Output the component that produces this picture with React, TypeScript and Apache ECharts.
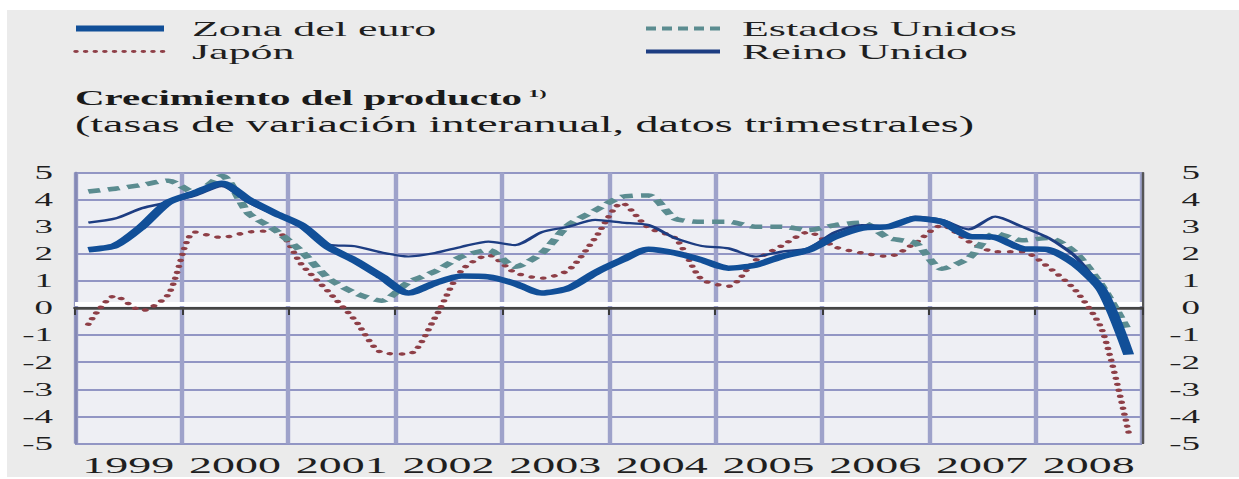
import React, { useEffect, useRef } from "react";
import * as echarts from "echarts";

// ---- data ----
const years = ["1999", "2000", "2001", "2002", "2003", "2004", "2005", "2006", "2007", "2008"];
const quarterNames = ["I", "II", "III", "IV"];
const yTicks = { min: -5, max: 5, step: 1 };

const zonaEuro = [
  2.15, 2.3, 3.0, 3.9,
  4.25, 4.6, 4.0, 3.5,
  3.05, 2.25, 1.75, 1.15,
  0.55, 0.92, 1.18, 1.15,
  0.9, 0.55, 0.73, 1.3,
  1.77, 2.17, 2.03, 1.77,
  1.47, 1.58, 1.9, 2.14,
  2.63, 2.95, 3.0, 3.3,
  3.18, 2.65, 2.6, 2.2,
  2.15, 1.62, 0.65, -1.72,
];
const reinoUnido = [
  3.15, 3.3, 3.68, 3.9,
  4.15, 4.5, 3.9, 3.45,
  3.1, 2.35, 2.28, 2.05,
  1.9, 2.03, 2.26, 2.45,
  2.32, 2.8, 3.0, 3.25,
  3.15, 3.06, 2.58, 2.29,
  2.2, 1.9, 2.08, 2.2,
  2.8, 3.06, 3.03, 3.37,
  3.25, 2.9, 3.37, 3.0,
  2.58, 1.9, 0.66, -1.5,
];
const estadosUnidos = [
  4.3, 4.4, 4.54, 4.7,
  4.25, 4.87, 3.5, 2.88,
  2.08, 1.1, 0.55, 0.27,
  0.95, 1.35, 1.9, 2.14,
  1.52, 2.03, 3.06, 3.6,
  4.1, 4.15, 3.3, 3.18,
  3.18, 3.0, 3.0, 2.88,
  3.06, 3.15, 2.58, 2.4,
  1.45, 1.84, 2.76, 2.5,
  2.58, 2.03, 0.8, -0.87,
];
const japon = [
  -0.6, 0.45, -0.1, 0.5,
  2.8, 2.6, 2.8, 2.85,
  1.6, 0.6, -0.45, -1.65,
  -1.7, -0.35, 1.4, 1.95,
  1.3, 1.1, 1.4, 2.58,
  3.87, 2.96, 2.58, 1.05,
  0.8, 1.75, 2.3, 2.8,
  2.25, 2.03, 1.9, 2.4,
  3.05, 2.45, 2.08, 2.08,
  1.5, 0.66, -0.8, -4.6,
];

const quarters = years.flatMap((y) => quarterNames.map((q) => `${y} ${q}`));

const K = 2; // horizontal stretch of the whole picture
const W = 620;
const H = 479;
const FONT = "'Liberation Serif', 'Times New Roman', serif";

const C_EURO = "#114f98";
const C_UK = "#1d3d82";
const C_US = "#5b8c90";
const C_JP = "#8e3f47";

export default function App() {
  const ref = useRef<HTMLDivElement>(null);

  useEffect(() => {
    if (!ref.current) return;
    const chart = echarts.init(ref.current, undefined, { renderer: "svg" });
    const textColor = "#1f1f1f";
    const gridColor = "#9296c4";

    const jpStyle = { color: C_JP, width: 3.4, type: [0.01, 6], cap: "round" };
    const usStyle = { color: C_US, width: 4.5, type: [6, 4] };
    const ukStyle = { color: C_UK, width: 2.2 };
    const euStyle = { color: C_EURO, width: 5.5 };

    const legendCommon = {
      orient: "vertical",
      top: 17,
      padding: 0,
      itemHeight: 14,
      itemGap: 0,
      selectedMode: false,
      itemStyle: { opacity: 0 },
    };

    const option: any = {
      animation: false,
      backgroundColor: "transparent",
      textStyle: { fontFamily: FONT },
      title: [
        {
          text: "Crecimiento del producto{s|1)}",
          left: 37.5,
          top: 88,
          padding: 0,
          textStyle: {
            fontFamily: FONT,
            fontSize: 20.5,
            fontWeight: "bold",
            color: "#1a1a1a",
            rich: {
              s: { fontFamily: FONT, fontSize: 11, fontWeight: "bold", color: "#1a1a1a", padding: [0, 0, 10, 3] },
            },
          },
        },
        {
          text: "(tasas de variación interanual, datos trimestrales)",
          left: 37.5,
          top: 113,
          padding: 0,
          textStyle: { fontFamily: FONT, fontSize: 23, fontWeight: "normal", color: "#1a1a1a" },
        },
      ],
      legend: [
        {
          ...legendCommon,
          data: [
            { name: "Zona del euro", lineStyle: { ...euStyle, width: 6 } },
            { name: "Japón", lineStyle: { ...jpStyle, width: 2.8, type: [0.01, 4.8] } },
          ],
          left: 35,
          itemWidth: 44,
          textStyle: { fontFamily: FONT, fontSize: 22, lineHeight: 23, color: textColor, padding: [0, 0, 0, 9] },
        },
        {
          ...legendCommon,
          data: [
            { name: "Estados Unidos", lineStyle: { ...usStyle, width: 4, type: [5, 3] } },
            { name: "Reino Unido", lineStyle: { ...ukStyle, width: 4 } },
          ],
          left: 321,
          itemWidth: 37,
          textStyle: { fontFamily: FONT, fontSize: 22, lineHeight: 23, color: textColor, padding: [0, 0, 0, 6] },
        },
      ],
      grid: {
        left: 37.5,
        right: W - 571,
        top: 172.5,
        bottom: H - 443.5,
        show: true,
        backgroundColor: "#eeeff4",
        borderWidth: 0,
      },
      xAxis: [
        {
          type: "category",
          data: quarters,
          boundaryGap: true,
          position: "top",
          show: false,
        },
        {
          type: "category",
          data: years,
          boundaryGap: true,
          position: "bottom",
          axisLine: { show: true, lineStyle: { color: "#3a3a3a", width: 2 } },
          axisTick: { show: true, interval: 0, length: 7, lineStyle: { color: "#3a3a3a", width: 1 } },
          axisLabel: { interval: 0, fontFamily: FONT, fontSize: 23, color: textColor, margin: 10 },
          splitLine: { show: true, interval: 0, lineStyle: { color: "#9ea2ca", width: 2.2 } },
        },
      ],
      yAxis: [
        {
          type: "value",
          min: yTicks.min,
          max: yTicks.max,
          interval: yTicks.step,
          position: "left",
          axisLine: { show: true, lineStyle: { color: "#8589b5", width: 1.5 } },
          axisTick: { show: false },
          axisLabel: { fontFamily: FONT, fontSize: 18.5, color: textColor, margin: 11 },
          splitLine: { show: true, lineStyle: { color: gridColor, width: 2 } },
        },
        {
          type: "value",
          min: yTicks.min,
          max: yTicks.max,
          interval: yTicks.step,
          position: "right",
          axisLine: { show: true, lineStyle: { color: "#555", width: 1.2 } },
          axisTick: { show: false },
          axisLabel: { fontFamily: FONT, fontSize: 18.5, color: textColor, align: "right", margin: 29 },
          splitLine: { show: false },
        },
      ],
      series: [
        {
          name: "_zero",
          type: "line",
          xAxisIndex: 0,
          yAxisIndex: 0,
          data: [],
          silent: true,
          z: 1,
          markLine: {
            silent: true,
            symbol: "none",
            z: 1,
            label: { show: false },
            data: [
              { yAxis: 0.14, lineStyle: { color: "#ffffff", width: 4, type: "solid" } },
              { yAxis: 0, lineStyle: { color: "#474747", width: 2.5, type: "solid" } },
            ],
          },
        },
        {
          name: "Japón",
          type: "line",
          xAxisIndex: 0,
          yAxisIndex: 0,
          data: japon,
          symbol: "none",
          smooth: 0.25,
          z: 3,
          color: C_JP,
          lineStyle: jpStyle,
        },
        {
          name: "Estados Unidos",
          type: "line",
          xAxisIndex: 0,
          yAxisIndex: 0,
          data: estadosUnidos,
          symbol: "none",
          smooth: 0.25,
          z: 4,
          color: C_US,
          lineStyle: usStyle,
        },
        {
          name: "Reino Unido",
          type: "line",
          xAxisIndex: 0,
          yAxisIndex: 0,
          data: reinoUnido,
          symbol: "none",
          smooth: 0.25,
          z: 5,
          color: C_UK,
          lineStyle: ukStyle,
        },
        {
          name: "Zona del euro",
          type: "line",
          xAxisIndex: 0,
          yAxisIndex: 0,
          data: zonaEuro,
          symbol: "none",
          smooth: 0.25,
          z: 6,
          color: C_EURO,
          lineStyle: euStyle,
        },
      ],
    };

    chart.setOption(option);
    return () => chart.dispose();
  }, []);

  return (
    <div style={{ position: "fixed", left: 0, top: 0, width: 1239, height: H, background: "#ffffff", overflow: "hidden" }}>
      <div style={{ position: "absolute", left: 7, top: 10, right: 0, bottom: 2, background: "#ebebeb" }} />
      <div
        ref={ref}
        style={{
          position: "absolute",
          left: 0,
          top: 0,
          width: W,
          height: H,
          transform: `scaleX(${K})`,
          transformOrigin: "0 0",
        }}
      />
    </div>
  );
}
